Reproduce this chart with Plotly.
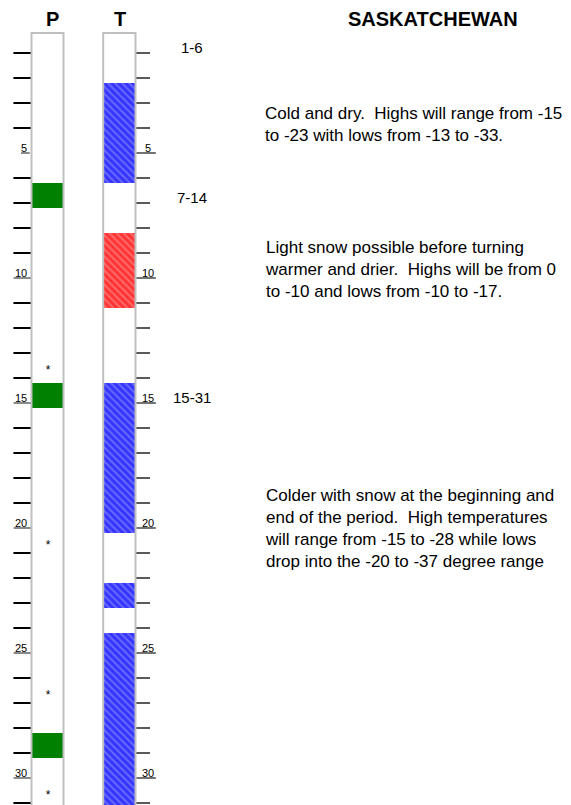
import plotly.graph_objects as go

# ---------------- data ----------------
days = list(range(1, 32))
tick_label_days = [5, 10, 15, 20, 25, 30]
precip_days = [7, 15, 29]                 # green boxes in P column
precip_chance_days = [14, 21, 27, 31]     # asterisks in P column
cold_days = [3, 4, 5, 6, 15, 16, 17, 18, 19, 20, 23, 25, 26, 27, 28, 29, 30, 31]
warm_days = [9, 10, 11]
period_starts = [1, 7, 15]
period_labels = ["1-6", "7-14", "15-31"]
period_texts = [
    "Cold and dry.  Highs will range from -15<br>to -23 with lows from -13 to -33.",
    "Light snow possible before turning<br>warmer and drier.  Highs will be from 0<br>to -10 and lows from -10 to -17.",
    "Colder with snow at the beginning and<br>end of the period.  High temperatures<br>will range from -15 to -28 while lows<br>drop into the -20 to -37 degree range",
]
column_titles = ["P", "T"]
region_title = "SASKATCHEWAN"

# ---------------- layout constants ----------------
PAGE_OFF = 8                      # default body margin of the html page
W, H = 571 - PAGE_OFF, 805 - PAGE_OFF
FONT = "Liberation Sans, Arial, sans-serif"
P_X, T_X, BAR_W = 47.5, 119.5, 31
PX_PER_DAY, DAY1_PX = 25.0, 53.0
Y_TOP = 1 + (PAGE_OFF - DAY1_PX) / PX_PER_DAY
Y_BOT = 1 + (805 - DAY1_PX) / PX_PER_DAY
CELL_UP = 0.8                      # cell extends 0.8 day above its tick, 0.2 below
desc_y = [3.84, 9.64, 20.02]
GRAY = "#c0c0c0"

fig = go.Figure()

# P column: precipitation boxes
fig.add_trace(go.Bar(
    x=[P_X] * len(precip_days), y=[1] * len(precip_days),
    base=[d - CELL_UP for d in precip_days], width=BAR_W,
    marker=dict(color="#008000", line=dict(width=0)), hoverinfo="skip"))

# T column: cold (blue hatched) and warm (red hatched)
fig.add_trace(go.Bar(
    x=[T_X] * len(cold_days), y=[1] * len(cold_days),
    base=[d - CELL_UP for d in cold_days], width=BAR_W,
    marker=dict(color="#0000ff", line=dict(width=0),
                pattern=dict(shape="\\", fgcolor="#0000ff", bgcolor="#6a6aff",
                             size=5, solidity=0.6)),
    hoverinfo="skip"))
fig.add_trace(go.Bar(
    x=[T_X] * len(warm_days), y=[1] * len(warm_days),
    base=[d - CELL_UP for d in warm_days], width=BAR_W,
    marker=dict(color="#ff0000", line=dict(width=0),
                pattern=dict(shape="\\", fgcolor="#ff0000", bgcolor="#ff6a6a",
                             size=5, solidity=0.6)),
    hoverinfo="skip"))

# asterisks
fig.add_trace(go.Scatter(
    x=[P_X + 0.5] * len(precip_chance_days),
    y=[d - 0.3 for d in precip_chance_days],
    mode="text", text=["*"] * len(precip_chance_days),
    textfont=dict(family=FONT, size=12, color="black"), hoverinfo="skip"))

# tick marks
plain_days = [d for d in days if d not in tick_label_days]
fig.add_trace(go.Scatter(
    x=[22.5] * len(plain_days), y=plain_days, mode="markers",
    marker=dict(symbol="line-ew", size=13, line=dict(width=2, color="black")),
    hoverinfo="skip"))
fig.add_trace(go.Scatter(
    x=[143] * len(plain_days), y=plain_days, mode="markers",
    marker=dict(symbol="line-ew", size=10, line=dict(width=1.3, color="black")),
    hoverinfo="skip"))
# underlines of labelled ticks
lw = [6.2 * len(str(d)) for d in tick_label_days]
fig.add_trace(go.Scatter(
    x=[28.5 - w / 2 for w in lw], y=tick_label_days, mode="markers",
    marker=dict(symbol="line-ew", size=lw, line=dict(width=1.3, color="black")),
    hoverinfo="skip"))
fig.add_trace(go.Scatter(
    x=[146] * len(tick_label_days), y=tick_label_days, mode="markers",
    marker=dict(symbol="line-ew", size=14, line=dict(width=1.1, color="black")),
    hoverinfo="skip"))

annotations = []
for d in tick_label_days:
    annotations.append(dict(x=28.8, y=d - 0.2, text=str(d), xanchor="right",
                            yanchor="middle", showarrow=False,
                            font=dict(family=FONT, size=11, color="black")))
    annotations.append(dict(x=148, y=d - 0.2, text=str(d), xanchor="center",
                            yanchor="middle", showarrow=False,
                            font=dict(family=FONT, size=11, color="black")))
for s, lab in zip(period_starts, period_labels):
    annotations.append(dict(x=192, y=s - 0.22, text=lab, xanchor="center",
                            yanchor="middle", showarrow=False,
                            font=dict(family=FONT, size=15, color="black")))
for yy, txt in zip(desc_y, period_texts):
    annotations.append(dict(x=263, y=yy, text=txt, xanchor="left", align="left",
                            yanchor="middle", showarrow=False,
                            font=dict(family=FONT, size=17, color="black")))
for xx, t in zip([52, 120], column_titles):
    annotations.append(dict(x=xx, y=-0.37, text="<b>%s</b>" % t, xanchor="center",
                            yanchor="middle", showarrow=False,
                            font=dict(family=FONT, size=20, color="black")))
annotations.append(dict(x=432.5, y=-0.37, text="<b>%s</b>" % region_title,
                        xanchor="center", yanchor="middle", showarrow=False,
                        font=dict(family=FONT, size=20, color="black")))

shapes = []
for x0, x1 in [(31.5, 63.5), (103.2, 135.5)]:
    shapes.append(dict(type="rect", xref="x", yref="y", x0=x0, x1=x1,
                       y0=0.2, y1=32, line=dict(color=GRAY, width=2),
                       fillcolor="rgba(0,0,0,0)", layer="above"))

fig.update_layout(
    width=W, height=H, margin=dict(l=0, r=0, t=0, b=0),
    paper_bgcolor="white", plot_bgcolor="white",
    barmode="overlay", showlegend=False, bargap=0,
    xaxis=dict(range=[PAGE_OFF, 571], visible=False, fixedrange=True),
    yaxis=dict(range=[Y_BOT, Y_TOP], visible=False, fixedrange=True),
    annotations=annotations, shapes=shapes,
)

fig.write_html("out.html", config={"displayModeBar": False})
